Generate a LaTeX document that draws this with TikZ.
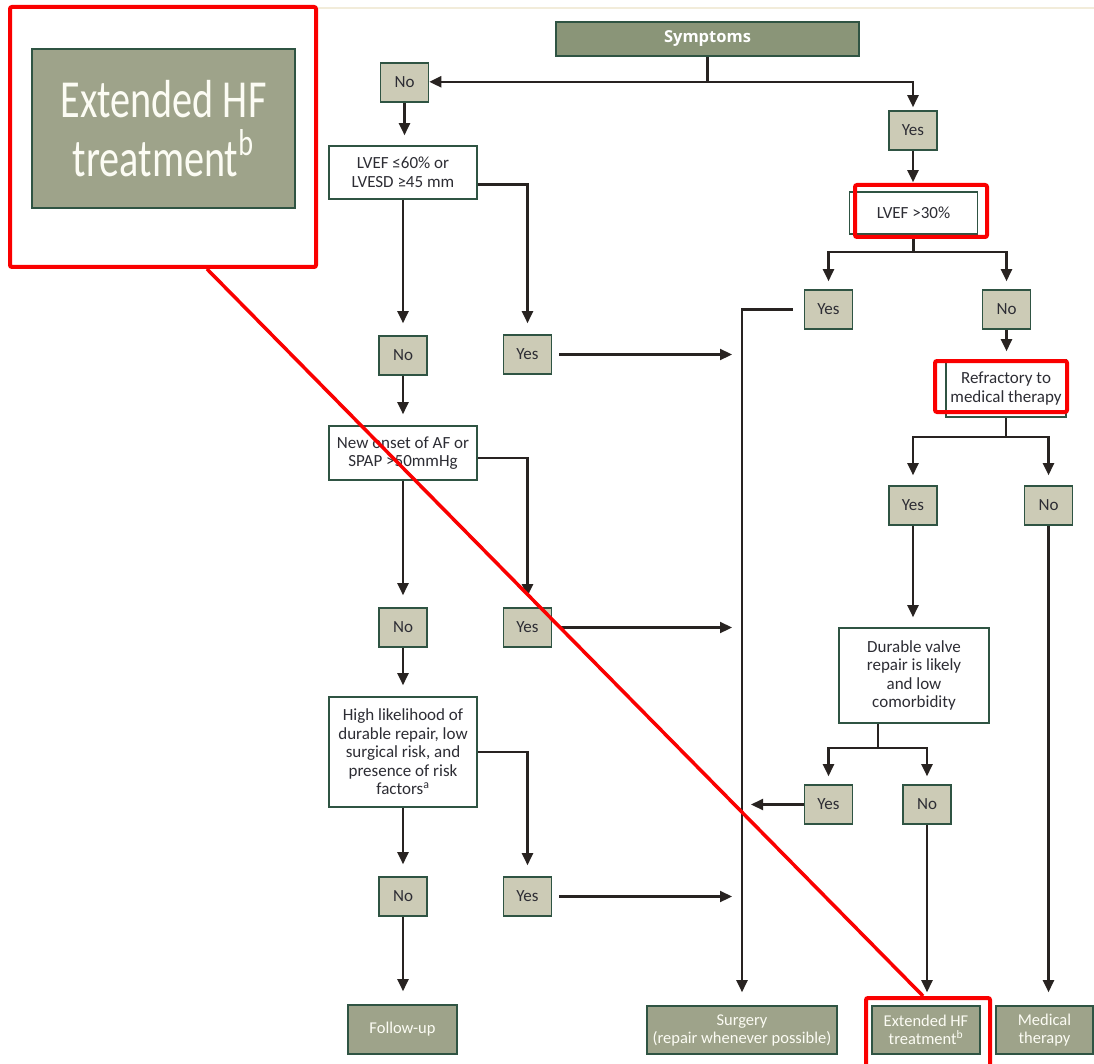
\documentclass[tikz,border=0pt]{standalone}
\usepackage{fontspec}
\setmainfont{Carlito}
\newfontfamily\headfont{Open Sans}
\usetikzlibrary{arrows.meta,calc}

\definecolor{linecol}{RGB}{40,35,33}
\definecolor{edgegreen}{RGB}{47,84,67}
\definecolor{headfill}{RGB}{138,149,120}
\definecolor{outfill}{RGB}{158,163,138}
\definecolor{choicefill}{RGB}{204,203,182}
\definecolor{textdark}{RGB}{45,45,52}
\definecolor{outtext}{RGB}{252,252,244}
\definecolor{rulebeige}{RGB}{242,236,218}
\definecolor{markred}{RGB}{250,0,0}

\tikzset{
  base/.style={draw=edgegreen, line width=1.6pt, align=center, inner sep=0pt,
    font=\fontsize{17}{18.5}\selectfont, text=textdark},
  choice/.style={base, fill=choicefill, minimum width=48, minimum height=39},
  question/.style={base, fill=white},
  headbox/.style={base, fill=headfill, text=white,
    font=\headfont\bfseries\fontsize{16.5}{20}\selectfont},
  outcome/.style={base, fill=outfill, text=outtext,
    font=\fontsize{16.5}{18}\selectfont},
  flow/.style={draw=linecol, line width=2.2pt},
  arr/.style={flow, -{Triangle[length=12pt,width=11pt]}},
  markframe/.style={draw=markred, line width=4pt, rounded corners=2pt,
    inner sep=0pt, fill=none},
  markline/.style={draw=markred, line width=3.5pt},
}

\begin{document}
\begin{tikzpicture}[x=1pt, y=-1pt]
\fill[white] (0,0) rectangle (1094,1064);
\useasboundingbox (0,0) rectangle (1094,1064);

% thin rule along the top
\draw[rulebeige, line width=1.5pt] (318,8) -- (1094,8);

% ---------- left branch ----------
\node[headbox, minimum width=303, minimum height=34] (sym) at (707.5,39) {Symptoms};
\node[choice] (no1) at (404.5,82.5) {No};
\node[choice] (yes1) at (913,130.5) {Yes};

\node[question, minimum width=148, minimum height=53] (lvef60) at (403,172.5)
  {LVEF ≤60\% or\\LVESD ≥45 mm};
\node[choice] (no2) at (403,355.5) {No};
\node[choice] (yes2) at (527.5,354.5) {Yes};

\node[question, minimum width=148, minimum height=54] (onset) at (403,453)
  {New onset of AF or\\SPAP >50mmHg};
\node[choice] (no3) at (403,627.5) {No};
\node[choice] (yes3) at (527.5,627.5) {Yes};

\node[question, minimum width=148, minimum height=110] (likely) at (403,752)
  {High likelihood of\\durable repair, low\\surgical risk, and\\presence of risk\\factors\textsuperscript{a}};
\node[choice] (no4) at (403,896.5) {No};
\node[choice] (yes4) at (527.5,896.5) {Yes};

\node[outcome, minimum width=109, minimum height=49] (follow) at (402.5,1029.5) {Follow-up};

% ---------- right branch ----------
\node[question, minimum width=128, minimum height=42] (lvef30) at (913.5,213) {LVEF >30\%};
\node[choice] (yesA) at (828.5,309.5) {Yes};
\node[choice] (noA) at (1006.5,309.5) {No};

\node[question, minimum width=120, minimum height=57] (refract) at (1006,388.5)
  {Refractory to\\medical therapy};
\node[choice] (yesB) at (913,505.5) {Yes};
\node[choice] (noB) at (1048.5,505.5) {No};

\node[question, minimum width=150, minimum height=95] (durable) at (914,675.5)
  {Durable valve\\repair is likely\\and low\\comorbidity};
\node[choice] (yesC) at (828.5,804.5) {Yes};
\node[choice] (noC) at (927,804.5) {No};

\node[outcome, minimum width=190, minimum height=48] (surgery) at (742,1030)
  {Surgery\\(repair whenever possible)};
\node[outcome, minimum width=108, minimum height=48] (ext) at (926,1030)
  {Extended HF\\treatment\textsuperscript{b}};
\node[outcome, minimum width=97, minimum height=48] (medical) at (1044.5,1030)
  {Medical\\therapy};

% ---------- connectors ----------
\coordinate (split1) at ($(sym.south)+(0,25)$);
\draw[flow] (sym.south) -- (split1);
\draw[arr] (split1) -- (split1 -| no1.east);
\draw[arr, shorten >=3] (split1) -| (yes1.north);

\draw[arr, shorten >=10] (no1.south) -- (no1.south |- lvef60.north);
\draw[arr, shorten >=11] ($(lvef60.east)+(0,12)$) -| (yes2.north);
\draw[arr, shorten >=12] (lvef60.south) -- (no2.north);
\draw[arr, shorten >=11] (no2.south) -- (onset.north);
\draw[arr, shorten >=11] ($(onset.east)+(0,5)$) -| (yes3.north);
\draw[arr, shorten >=12] (onset.south) -- (no3.north);
\draw[arr, shorten >=11] (no3.south) -- (likely.north);
\draw[arr, shorten >=11] (likely.east) -| (yes4.north);
\draw[arr, shorten >=12] (likely.south) -- (no4.north);
\draw[arr, shorten >=13] (no4.south) -- (no4.south |- follow.north);

% trunk into surgery and the arrows that point at it
\draw[arr, shorten <=11, shorten >=13] (yesA.west) -| (surgery.north);
\draw[arr, shorten <=7, shorten >=10] (yes2.east) -- (yes2.east -| surgery.north);
\draw[arr, shorten <=7, shorten >=10] (yes3.east) -- (yes3.east -| surgery.north);
\draw[arr, shorten <=7, shorten >=10] (yes4.east) -- (yes4.east -| surgery.north);
\draw[arr, shorten >=9] (yesC.west) -- (yesC.west -| surgery.north);

\draw[arr, shorten >=9] (yes1.south) -- (yes1.south |- lvef30.north);
\coordinate (split2) at ($(lvef30.south)+(0,17)$);
\draw[flow] (lvef30.south) -- (split2);
\draw[arr, shorten >=8] (split2) -| (yesA.north);
\draw[arr, shorten >=8] (split2) -| (noA.north);
\draw[arr, shorten >=8] (noA.south) -- (noA.south |- refract.north);

\coordinate (split3) at ($(refract.south)+(0,19)$);
\draw[flow] (refract.south) -- (split3);
\draw[arr, shorten >=10] (split3) -| (yesB.north);
\draw[arr, shorten >=10] (split3) -| (noB.north);
\draw[arr, shorten >=10] (yesB.south) -- (yesB.south |- durable.north);

\coordinate (split4top) at ($(durable.south)+(-36,0)$);
\coordinate (split4) at ($(split4top)+(0,24)$);
\draw[flow] (split4top) -- (split4);
\draw[arr, shorten >=8] (split4) -| (yesC.north);
\draw[arr, shorten >=8] (split4) -| (noC.north);
\draw[arr, shorten >=13] (noC.south) -- (noC.south |- ext.north);
\draw[arr, shorten >=13] (noB.south) -- (noB.south |- medical.north);

% ---------- enlarged view and highlight marks ----------
\begin{scope}[shift={(163.5,128.5)}, xscale=2.435, yscale=3.245]
  \node[outcome, transform shape, minimum width=108, minimum height=49,
        line width=2.2pt] (inset) at (0,0) {Extended HF\\treatment\textsuperscript{b}};
\end{scope}
\node[markframe, minimum width=306, minimum height=260] (zoomframe) at (163,137) {};
\node[markframe, minimum width=132, minimum height=52] (markA) at (921,211) {};
\node[markframe, minimum width=132, minimum height=51] (markB) at (1001,386.5) {};
\node[markframe, minimum width=124, minimum height=72] (extframe) at (928,1034) {};
\draw[markline] ($(zoomframe.south)+(44,0)$) -- ($(extframe.north)+(-5,0)$);
\end{tikzpicture}
\end{document}
